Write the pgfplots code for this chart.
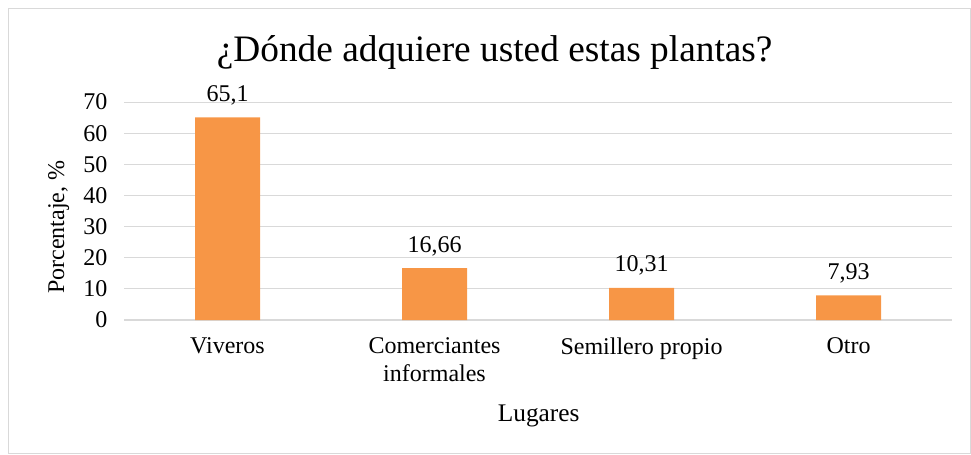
\documentclass[border=0pt]{standalone}
\usepackage{fontspec}
\setmainfont{Liberation Serif}
\usepackage{pgfplots}
\pgfplotsset{compat=1.18}
\definecolor{BarOrange}{HTML}{F79646}
\definecolor{GridGray}{HTML}{D9D9D9}
\begin{document}
\begin{tikzpicture}
\useasboundingbox (0,0) rectangle (728.25pt,340.5pt);
\draw[GridGray] (6pt,0.75pt) rectangle (727.5pt,334.5pt);
\node[anchor=base, font=\fontsize{28}{32}\selectfont] at (371pt,294pt) {¿Dónde adquiere usted estas plantas?};
\begin{axis}[
  at={(93pt,100.5pt)}, anchor=south west,
  scale only axis,
  width=621pt, height=163.5pt,
  xmin=-0.5, xmax=3.5, ymin=0, ymax=70,
  ybar, bar width=48.75pt,
  axis x line*=bottom, axis y line*=left,
  x axis line style={GridGray, line width=0.9pt, -},
  y axis line style={draw=none},
  ymajorgrids, grid style={GridGray, line width=0.75pt},
  ytick={0,10,...,70},
  xtick={0,1,2,3},
  xticklabels={Viveros, {Comerciantes\\informales}, Semillero propio, Otro},
  x tick label style={align=center, anchor=north, yshift=-10pt,
    font=\fontsize{18}{21}\selectfont},
  y tick label style={anchor=east, xshift=-9pt, font=\fontsize{18}{21}\selectfont},
  major tick length=0pt,
  /pgf/number format/assume math mode=true,
  nodes near coords, point meta=explicit symbolic,
  nodes near coords style={font=\fontsize{18}{21}\selectfont, anchor=base, yshift=12pt},
]
\addplot[fill=BarOrange, draw=none] coordinates {
  (0,65.1) [65,1]
  (1,16.66) [16,66]
  (2,10.31) [10,31]
  (3,7.93) [7,93]
};
\end{axis}
\node[anchor=base, font=\fontsize{19}{22}\selectfont] at (404pt,24.2pt) {Lugares};
\node[rotate=90, font=\fontsize{18}{21}\selectfont] at (44pt,170pt) {Porcentaje, \%};
\end{tikzpicture}
\end{document}
